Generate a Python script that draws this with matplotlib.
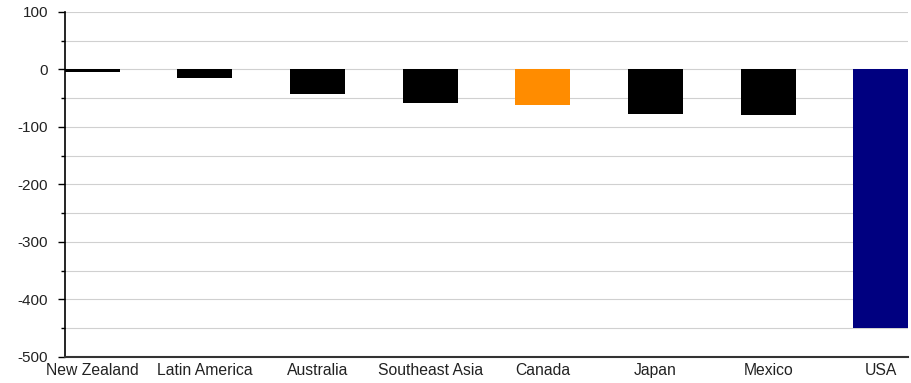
import numpy as np
import matplotlib
matplotlib.use("Agg")
import matplotlib.pyplot as plt
from matplotlib.ticker import MultipleLocator

regions = ["New Zealand", "Latin America", "Australia", "Southeast Asia",
           "Canada", "Japan", "Mexico", "USA"]
values = [-5, -14, -42, -58, -61, -77, -80, -449]
colors = ["black", "black", "black", "black", "#ff8c00", "black", "black", "#000080"]

plt.rcParams["font.family"] = ["Liberation Sans", "DejaVu Sans"]
plt.rcParams["axes.unicode_minus"] = False

fig = plt.figure(figsize=(9.12, 3.83), dpi=100)
ax = fig.add_axes([0.0713, 0.068, 0.9243, 0.9007])

x = np.arange(len(regions))
ax.bar(x, values, width=0.49, color=colors, zorder=3)

ax.set_ylim(-500, 100)
ax.set_xlim(-0.24, 7.24)
ax.yaxis.set_major_locator(MultipleLocator(100))
ax.yaxis.set_minor_locator(MultipleLocator(50))
ax.grid(axis="y", which="both", color="#d0d0d0", linewidth=0.8, zorder=0)

ax.set_xticks(x)
ax.set_xticklabels(regions, fontsize=11.3, color="#222222")
ax.tick_params(axis="x", length=0, pad=4)
ax.tick_params(axis="y", which="major", length=5, width=1, direction="out",
               pad=7, labelsize=11, labelcolor="#222222")
ax.tick_params(axis="y", which="minor", length=3, width=1, direction="out")

for s in ["top", "right"]:
    ax.spines[s].set_visible(False)
ax.spines["left"].set_linewidth(1.2)
ax.spines["bottom"].set_linewidth(1.5)
ax.spines["bottom"].set_color("#333333")

fig.savefig("out.png", dpi=100)
